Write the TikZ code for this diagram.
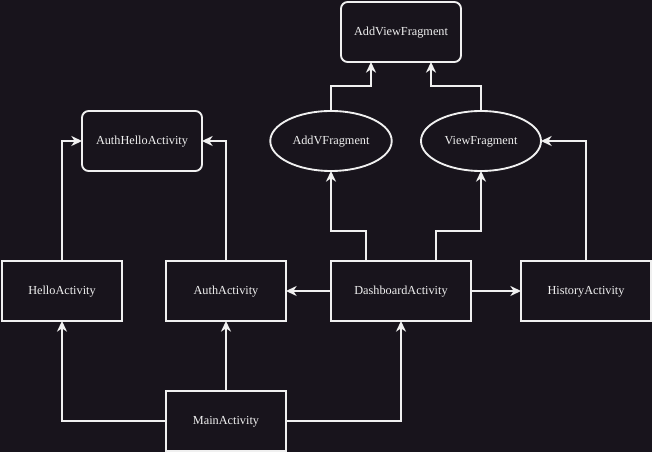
\documentclass[tikz,border=0pt]{standalone}
\usepackage{fontspec}
\setmainfont{Liberation Serif}
\usetikzlibrary{shapes, arrows.meta, positioning, calc, backgrounds}
\definecolor{bgdark}{RGB}{24,20,28}
\definecolor{linewhite}{RGB}{240,240,240}

\begin{document}
\begin{tikzpicture} [
    activity/.style={rectangle, draw=linewhite, line width=1.4pt, outer sep=0pt, fill=bgdark, text=linewhite, minimum width=90pt, minimum height=45pt, font=\fontsize{9.2}{11}\selectfont, text centered, text depth=0.5pt},
    group/.style={activity, rounded corners=5pt},
    fragment/.style={ellipse, draw=linewhite, line width=1.4pt, outer sep=0pt, fill=bgdark, text=linewhite, minimum width=90pt, minimum height=45pt, font=\fontsize{9.2}{11}\selectfont, text centered, text depth=0.5pt},
    arrow/.style={-{Stealth[length=8pt, width=7.5pt, inset=2.5pt]}, draw=linewhite, line width=1.4pt}
]
\useasboundingbox (-300.75pt,218.25pt) rectangle (188.25pt,-120.75pt);

% Define all nodes first (foreground)
\node[activity, minimum width=105pt] (dash) at (0,0) {DashboardActivity};
\node[activity, left=33.75pt of dash] (auth) {AuthActivity};
\node[activity, left=33pt of auth] (hello) {HelloActivity};
\node[activity, minimum width=97.5pt, right=37.5pt of dash] (hist) {HistoryActivity};
\node[activity, below=52.5pt of auth] (main) {MainActivity};
\node[group, above=67.5pt of auth, xshift=-63pt] (authhello) {AuthHelloActivity};
\node[fragment, above=67.5pt of dash.north west] (addvf) {AddVFragment};
\node[fragment, above=67.5pt of dash.north east, xshift=7.5pt] (viewf) {ViewFragment};
\node[group, above=149.25pt of dash] (addview) {AddViewFragment};

% Draw all arrows in background
\begin{scope}[on background layer]
    \fill[bgdark] (-305pt,222pt) rectangle (192pt,-125pt);
    \draw[arrow] (hello.north) |- (authhello.west);
    \draw[arrow] (auth.north) |- (authhello.east);
    \draw[arrow] (main.west) -| (hello.south);
    \draw[arrow] (main) -- (auth);
    \draw[arrow] (main.east) -| (dash.south);
    \draw[arrow] (dash) -- (auth);
    \draw[arrow] (dash) -- (hist);
    \draw[arrow] ($(dash.north)+(-26.25pt,0)$) -- ++(0,22.5pt) -| (addvf.south);
    \draw[arrow] ($(dash.north)+(26.25pt,0)$) -- ++(0,22.5pt) -| (viewf.south);
    \draw[arrow] (hist.north) |- (viewf.east);
    \draw[arrow] (addvf.north) -- ++(0,18.75pt) -| ($(addview.south)+(-22.5pt,0)$);
    \draw[arrow] (viewf.north) -- ++(0,18.75pt) -| ($(addview.south)+(22.5pt,0)$);
\end{scope}

\end{tikzpicture}
\end{document}
